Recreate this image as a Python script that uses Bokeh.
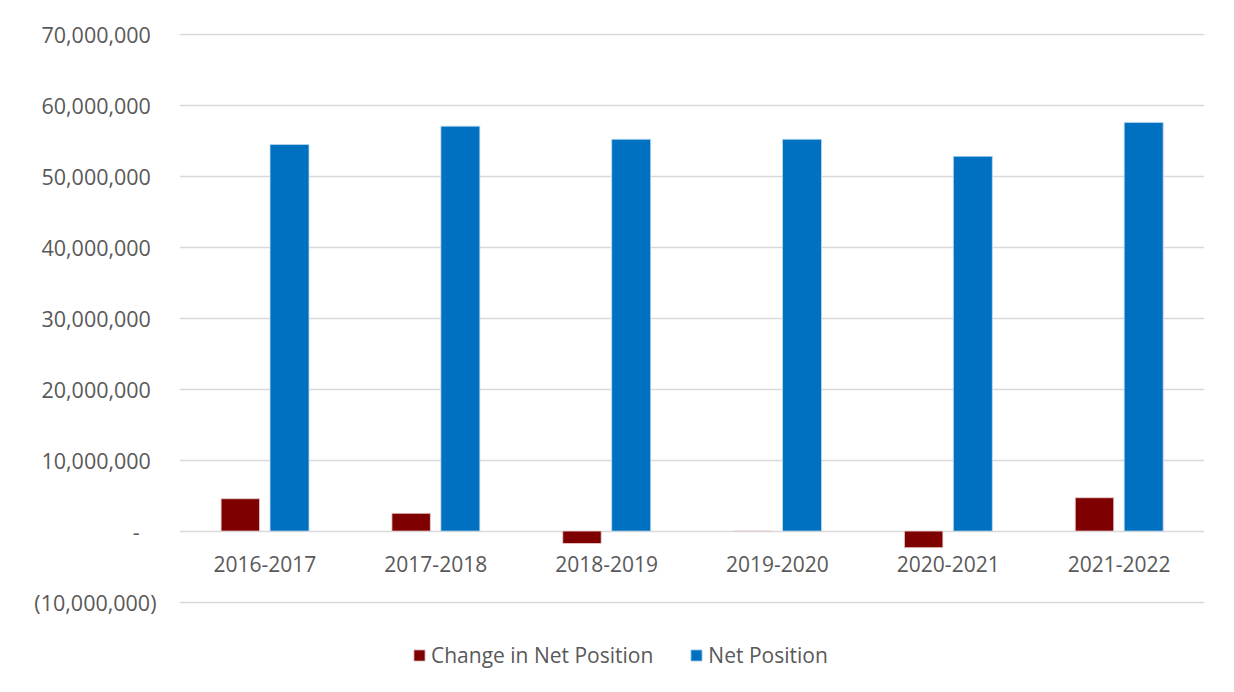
from bokeh.plotting import figure
from bokeh.models import ColumnDataSource, Range1d, FixedTicker, Legend, LegendItem
from bokeh.transform import dodge
from bokeh.core.properties import value
from bokeh.embed import file_html
from bokeh.resources import INLINE

categories = ["2016-2017", "2017-2018", "2018-2019", "2019-2020", "2020-2021", "2021-2022"]
change_in_net_position = [4560000, 2500000, -1750000, 0, -2330000, 4700000]
net_position = [54450000, 57030000, 55180000, 55180000, 52780000, 57560000]

y_ticks = [-10000000, 0, 10000000, 20000000, 30000000, 40000000, 50000000, 60000000, 70000000]
y_tick_labels = ["(10,000,000)", "-\u00a0\u00a0\u00a0", "10,000,000\u00a0", "20,000,000\u00a0",
                 "30,000,000\u00a0", "40,000,000\u00a0", "50,000,000\u00a0",
                 "60,000,000\u00a0", "70,000,000\u00a0"]

FONT = "Open Sans"
TXT = "#595959"
GRID = "#d9d9d9"
RED = "#7f0000"
BLUE = "#0070c0"

src = ColumnDataSource(dict(cat=categories, change=change_in_net_position, net=net_position,
                            zero=[0] * len(categories)))

# frame extends to the bottom so the legend (inside the frame) is below the -10M line
p = figure(x_range=categories, y_range=Range1d(-20480000, 70080000),
           width=1218, height=676, output_backend="svg", toolbar_location=None,
           min_border_left=179, min_border_top=33, min_border_right=14, min_border_bottom=0)
p.x_range.range_padding = 0
p.outline_line_color = None
p.background_fill_color = "white"
p.border_fill_color = "white"

r1 = p.vbar(x=dodge("cat", -0.144, range=p.x_range), top="change", bottom=0, width=0.225,
            source=src, fill_color=RED, line_color="#e8d0d0", line_width=0.8)
r2 = p.vbar(x=dodge("cat", 0.144, range=p.x_range), top="net", bottom=0, width=0.228,
            source=src, fill_color=BLUE, line_color="#bcd8ef", line_width=0.8)

# category labels just below the zero line
p.text(x="cat", y="zero", text="cat", source=src, y_offset=33,
       text_align="center", text_baseline="middle",
       text_font=value(FONT), text_font_size="21px", text_color=TXT)

# y axis
p.yaxis.ticker = FixedTicker(ticks=y_ticks)
p.yaxis.major_label_overrides = {t: s for t, s in zip(y_ticks, y_tick_labels)}
p.yaxis.axis_line_color = None
p.yaxis.major_tick_line_color = None
p.yaxis.minor_tick_line_color = None
p.yaxis.major_tick_out = 0
p.yaxis.major_label_standoff = 23
p.yaxis.major_label_text_font = FONT
p.yaxis.major_label_text_font_size = "21.5px"
p.yaxis.major_label_text_color = TXT

p.ygrid.ticker = FixedTicker(ticks=y_ticks)
p.ygrid.grid_line_color = GRID
p.ygrid.grid_line_width = 1.3
p.xgrid.grid_line_color = None
p.xaxis.visible = False

legend = Legend(items=[LegendItem(label="Change in Net Position", renderers=[r1]),
                       LegendItem(label="Net Position", renderers=[r2])],
                orientation="horizontal", location=(233, 7), margin=0, padding=0,
                label_text_font=FONT, label_text_font_size="21px", label_text_color=TXT,
                glyph_width=14, glyph_height=14, spacing=36, label_standoff=5,
                border_line_color=None, background_fill_alpha=0)
p.add_layout(legend, "center")

open("out.html", "w").write(file_html(p, INLINE))
